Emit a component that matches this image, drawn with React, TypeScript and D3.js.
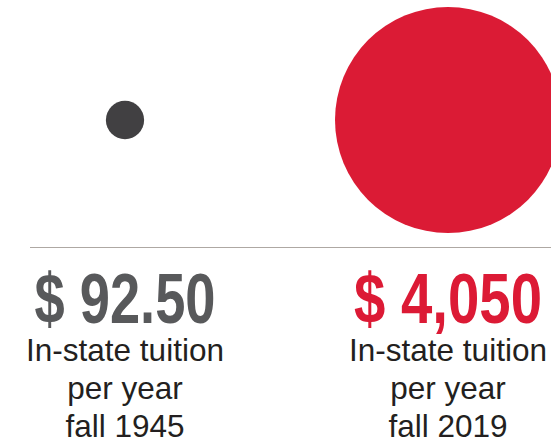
import React, { useEffect, useRef } from 'react';
import * as d3 from 'd3';

const years = ['1945', '2019'];
const tuition = [92.5, 4050];
const amountLabels = ['$ 92.50', '$ 4,050'];
const captionLines = ['In-state tuition', 'per year'];

const App = () => {
  const svgRef = useRef<SVGSVGElement>(null);

  useEffect(() => {
    const svg = d3.select(svgRef.current);
    svg.selectAll('*').remove();

    const width = 551;
    const height = 445;
    const colors = ['#414042', '#db1b35'];
    const numColors = ['#58595b', '#dc1a35'];

    // horizontal position of each column
    const x = d3.scaleOrdinal<string, number>().domain(years).range([125, 448]);
    // circle area roughly follows the amount
    const r = d3.scalePow().exponent(0.47).domain([0, d3.max(tuition)!]).range([0, 113]);

    const cy = 120;

    svg.attr('width', width).attr('height', height);

    svg.selectAll('circle')
      .data(years)
      .join('circle')
      .attr('cx', d => x(d))
      .attr('cy', cy)
      .attr('r', (d, i) => r(tuition[i]))
      .attr('fill', (d, i) => colors[i]);

    svg.append('line')
      .attr('x1', 30)
      .attr('x2', width)
      .attr('y1', 247.5)
      .attr('y2', 247.5)
      .attr('stroke', '#aea8a3')
      .attr('stroke-width', 1.2);

    // condensed look: squeeze a regular bold sans into the measured widths
    const widths = [181, 188];
    svg.selectAll('text.amount')
      .data(years)
      .join('text')
      .attr('class', 'amount')
      .attr('x', d => x(d))
      .attr('y', 323)
      .attr('text-anchor', 'middle')
      .attr('font-family', '"Liberation Sans", Arial, sans-serif')
      .attr('font-weight', 'bold')
      .attr('font-size', 70)
      .attr('textLength', (d, i) => widths[i])
      .attr('lengthAdjust', 'spacingAndGlyphs')
      .attr('fill', (d, i) => numColors[i])
      .text((d, i) => amountLabels[i]);

    years.forEach(year => {
      const lines = [...captionLines, `fall ${year}`];
      svg.append('g')
        .selectAll('text')
        .data(lines)
        .join('text')
        .attr('x', x(year))
        .attr('y', (d, i) => 361 + i * 38)
        .attr('text-anchor', 'middle')
        .attr('font-family', '"Liberation Sans", Arial, sans-serif')
        .attr('font-size', 31.5)
        .attr('fill', '#231f20')
        .text(d => d);
    });
  }, []);

  return (
    <svg ref={svgRef} style={{ position: 'absolute', left: 0, top: 0, display: 'block' }} />
  );
};

export default App;
